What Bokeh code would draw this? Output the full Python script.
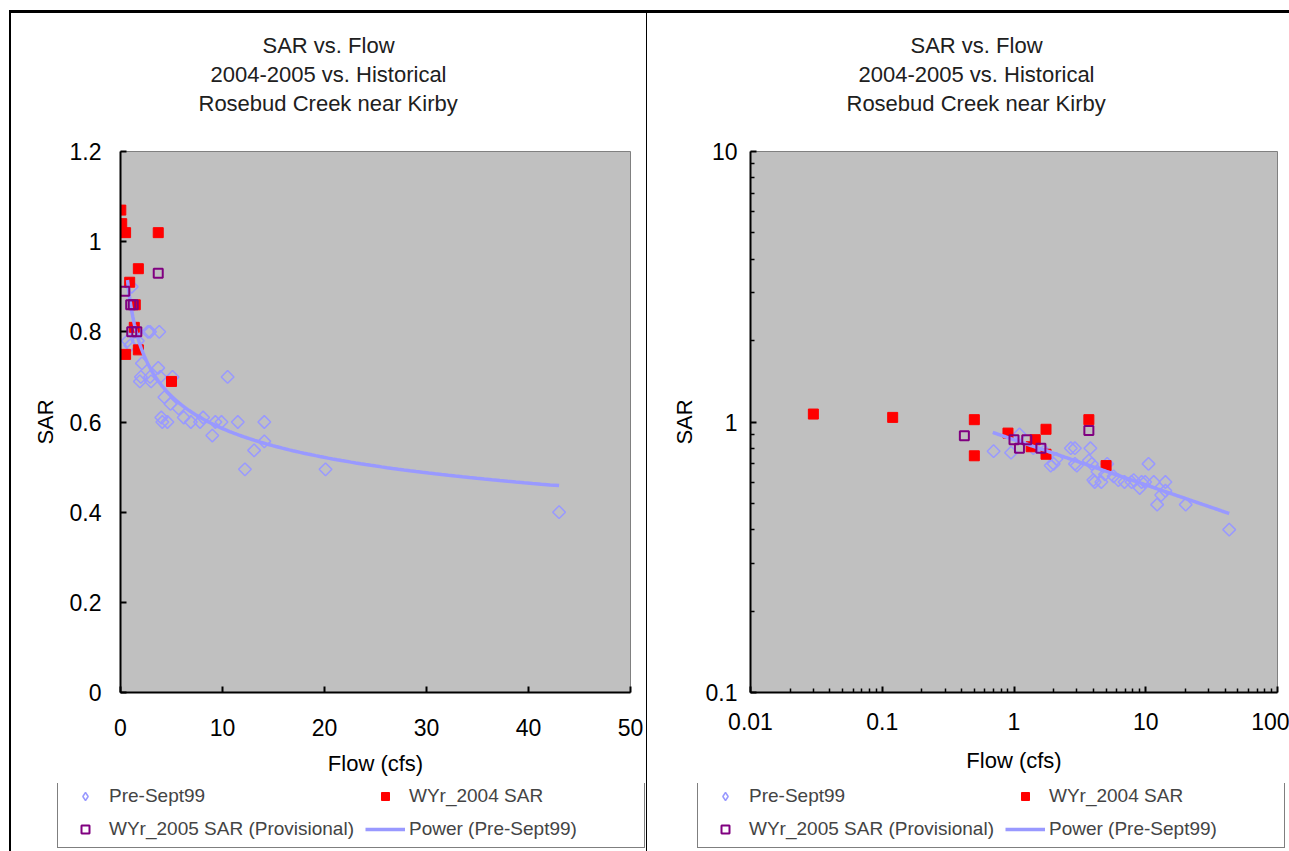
import numpy as np
from bokeh.plotting import figure
from bokeh.models import Legend, LegendItem, Title, FixedTicker, Range1d
from bokeh.layouts import row, column
from bokeh.embed import file_html
from bokeh.resources import INLINE

FONT = "Liberation Sans"

# ---------------- data ----------------
title_lines = ["SAR vs. Flow", "2004-2005 vs. Historical", "Rosebud Creek near Kirby"]
x_label = "Flow (cfs)"
y_label = "SAR"
legend_labels = ["Pre-Sept99", "WYr_2004 SAR", "WYr_2005 SAR (Provisional)", "Power (Pre-Sept99)"]

pre_flow = [0.7, 0.95, 1.1, 1.4, 1.7, 1.9, 2.0, 2.1, 2.7, 2.9, 2.9, 3.0, 3.7, 3.8, 3.9,
            4.0, 4.1, 4.3, 4.6, 4.9, 5.1, 5.7, 6.2, 6.9, 7.8, 8.1, 9.0, 9.3, 9.9, 10.5,
            11.5, 12.2, 13.1, 14.1, 14.1, 20.1, 43.0]
pre_sar = [0.78, 0.77, 0.90, 0.80, 0.78, 0.69, 0.70, 0.73, 0.80, 0.80, 0.70, 0.69, 0.72, 0.80, 0.70,
           0.61, 0.60, 0.655, 0.60, 0.64, 0.70, 0.63, 0.61, 0.60, 0.60, 0.61, 0.57, 0.60, 0.60, 0.70,
           0.60, 0.495, 0.537, 0.60, 0.557, 0.495, 0.40]

wy2004_flow = [0.03, 0.12, 0.5, 3.7, 1.75, 0.9, 1.45, 1.35, 1.75, 0.5, 5.0]
wy2004_sar = [1.07, 1.04, 1.02, 1.02, 0.94, 0.91, 0.86, 0.81, 0.76, 0.75, 0.69]

wy2005_flow = [0.42, 1.0, 1.1, 1.25, 1.6, 3.7]
wy2005_sar = [0.89, 0.86, 0.80, 0.86, 0.80, 0.93]

# power trendline of Pre-Sept99: SAR = coef * Flow ** exp
trend_coef = 0.86
trend_exp = -0.167
trend_flow_span = [0.69, 43.0]

lin_x_ticks = [0, 10, 20, 30, 40, 50]
lin_y_ticks = [0, 0.2, 0.4, 0.6, 0.8, 1.0, 1.2]
lin_y_labels = ["0", "0.2", "0.4", "0.6", "0.8", "1", "1.2"]
log_x_ticks = [0.01, 0.1, 1, 10, 100]
log_x_labels = ["0.01", "0.1", "1", "10", "100"]
log_y_ticks = [0.1, 1, 10]
log_y_labels = ["0.1", "1", "10"]

trend_x = np.geomspace(trend_flow_span[0], trend_flow_span[1], 200)
trend_y = trend_coef * trend_x ** trend_exp

# ---------------- styles ----------------
PRE_STYLE = dict(marker="square", angle=np.pi / 4, size=9, fill_color=None,
                 line_color="#9999FF", line_width=1.5)
PRE_LEGEND_STYLE = dict(marker="diamond", size=14, fill_color=None,
                        line_color="#9999FF", line_width=1.5)
W04_STYLE = dict(marker="square", size=10, fill_color="#FF0000", line_color="#FF0000")
W05_STYLE = dict(marker="square", size=9, fill_color=None, line_color="#800080", line_width=2)
TREND_STYLE = dict(line_color="#9999FF", line_width=3.5)


def minor_log(lo, hi):
    out = []
    d = lo
    while d < hi:
        out += [d * k for k in range(2, 10)]
        d *= 10
    return out


def style_axis(ax, standoff, label_standoff):
    ax.axis_line_color = "black"
    ax.axis_line_width = 2
    ax.major_tick_in = 6
    ax.major_tick_out = 0
    ax.major_tick_line_width = 2
    ax.minor_tick_in = 4
    ax.minor_tick_out = 0
    ax.minor_tick_line_width = 1.5
    ax.major_label_text_font = FONT
    ax.major_label_text_font_size = "23px"
    ax.major_label_text_color = "black"
    ax.major_label_standoff = standoff
    ax.axis_label_text_font = FONT
    ax.axis_label_text_font_size = "22px"
    ax.axis_label_text_font_style = "normal"
    ax.axis_label_text_color = "black"
    ax.axis_label_standoff = label_standoff


def title_model(text, offset, standoff=2, size="22px"):
    return Title(text=text, align="left", offset=offset, text_font=FONT,
                 text_font_size=size, text_font_style="normal",
                 text_color="#202020", standoff=standoff)


def make_chart(log, width, height, bl, br, bt, bb, title_offsets):
    kw = dict(width=width, height=height, output_backend="svg", toolbar_location=None,
              min_border_left=bl, min_border_right=br, min_border_top=bt, min_border_bottom=bb,
              background_fill_color="#C0C0C0", border_fill_color="white",
              outline_line_color="#808080", outline_line_width=1)
    if log:
        p = figure(x_axis_type="log", y_axis_type="log",
                   x_range=Range1d(0.01, 100), y_range=Range1d(0.1, 10), **kw)
    else:
        p = figure(x_range=Range1d(0, 50), y_range=Range1d(0, 1.2), **kw)
    p.grid.visible = False

    # titles: p.title is the outermost line, added titles stack outward from the frame
    p.title = title_model(title_lines[0], title_offsets[0])
    p.add_layout(title_model(" ", 0, standoff=8), "above")          # gap above the frame
    p.add_layout(title_model(title_lines[2], title_offsets[2]), "above")
    p.add_layout(title_model(title_lines[1], title_offsets[1]), "above")

    p.scatter(pre_flow, pre_sar, **PRE_STYLE)
    p.scatter(wy2004_flow, wy2004_sar, **W04_STYLE)
    p.line(trend_x, trend_y, **TREND_STYLE)
    p.scatter(wy2005_flow, wy2005_sar, **W05_STYLE)

    xa, ya = p.xaxis[0], p.yaxis[0]
    if log:
        xa.ticker = FixedTicker(ticks=log_x_ticks, minor_ticks=minor_log(0.01, 100))
        xa.major_label_overrides = dict(zip(log_x_ticks, log_x_labels))
        ya.ticker = FixedTicker(ticks=log_y_ticks, minor_ticks=minor_log(0.1, 10))
        ya.major_label_overrides = dict(zip(log_y_ticks, log_y_labels))
        style_axis(xa, 20, 15)
        style_axis(ya, 13, 6)
    else:
        xa.ticker = FixedTicker(ticks=lin_x_ticks)
        ya.ticker = FixedTicker(ticks=lin_y_ticks)
        ya.major_label_overrides = dict(zip(lin_y_ticks, lin_y_labels))
        style_axis(xa, 26, 12)
        style_axis(ya, 19, 9)
    xa.axis_label = x_label
    ya.axis_label = y_label
    return p


def make_legend_fig(width, height, loc):
    # legend-only strip: same series and styles, view ranges that show none of the marks
    q = figure(width=width, height=height, output_backend="svg", toolbar_location=None,
               x_range=Range1d(-2, -1), y_range=Range1d(-2, -1), min_border=0,
               x_axis_location=None, y_axis_location=None,
               background_fill_color="white", border_fill_color="white",
               outline_line_color=None)
    q.grid.visible = False
    r_pre = q.scatter(pre_flow, pre_sar, **PRE_LEGEND_STYLE)
    r_04 = q.scatter(wy2004_flow, wy2004_sar, **W04_STYLE)
    r_05 = q.scatter(wy2005_flow, wy2005_sar, **W05_STYLE)
    r_tr = q.line(trend_x, trend_y, **TREND_STYLE)
    # items are filled column by column: col 1 = Pre-Sept99, WYr_2005 ; col 2 = WYr_2004, Power
    legend = Legend(items=[LegendItem(label=legend_labels[0], renderers=[r_pre]),
                           LegendItem(label=legend_labels[2], renderers=[r_05]),
                           LegendItem(label=legend_labels[1], renderers=[r_04]),
                           LegendItem(label=legend_labels[3], renderers=[r_tr])],
                    location=loc, ncols=2, orientation="vertical",
                    glyph_width=40, glyph_height=20, label_height=20, label_width=228,
                    label_standoff=4, spacing=11, padding=7, margin=0,
                    label_text_font=FONT, label_text_font_size="19px",
                    border_line_color="black", border_line_width=1,
                    background_fill_color="white", background_fill_alpha=1)
    q.add_layout(legend, "center")
    return q


# host boxes are border-box sized; the canvas keeps the given size
c1 = make_chart(False, 638, 773, 109, 19, 138, 94, (142, 90, 78))
c2 = make_chart(True, 642, 773, 103, 12, 134, 91, (160, 108, 96))
l1 = make_legend_fig(638, 68, (46, 3))
l2 = make_legend_fig(642, 68, (50, 3))

c1.styles = {"margin-top": "10px", "margin-left": "9px",
             "border-top": "3px solid black", "border-left": "2px solid black",
             "border-right": "1px solid black"}
l1.styles = {"margin-left": "9px", "border-left": "2px solid black",
             "border-right": "1px solid black"}
c2.styles = {"margin-top": "10px", "border-top": "3px solid black"}

layout = column(row(c1, c2, spacing=0), row(l1, l2, spacing=0), spacing=0)
open("out.html", "w").write(file_html(layout, INLINE))
